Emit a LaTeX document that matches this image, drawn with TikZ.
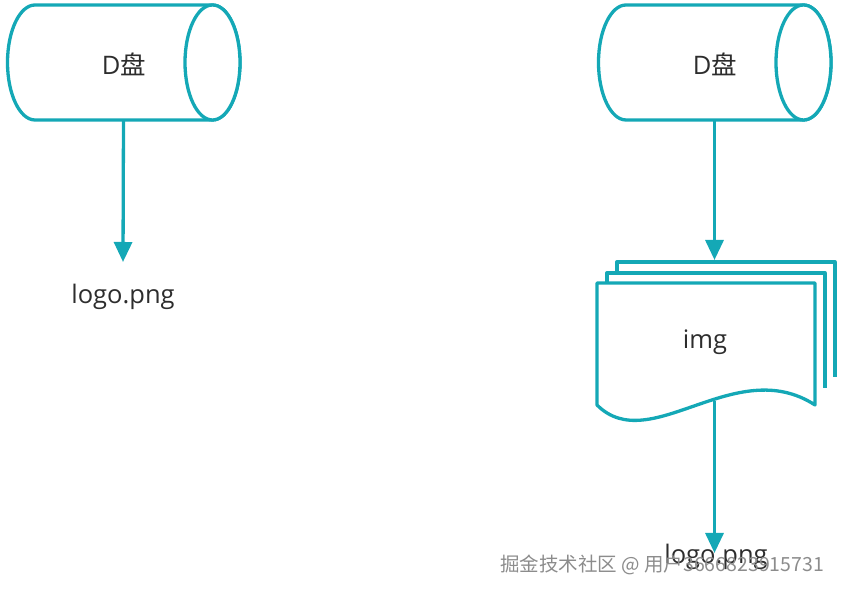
\documentclass[tikz,border=0pt]{standalone}
\usepackage{fontspec}
\setmainfont{Open Sans}
\newfontfamily\cjk{Noto Sans CJK SC}
\usetikzlibrary{arrows.meta}
\definecolor{teal}{RGB}{20,168,182}
\definecolor{txt}{RGB}{45,45,45}
\tikzset{
  edge/.style={draw=teal,line width=3.3pt,-{Triangle[width=18pt,length=20pt]}},
  shp/.style={draw=teal,line width=3.3pt,fill=white,line join=round},
  lbl/.style={text=txt,font=\fontsize{25.5}{30}\selectfont,inner sep=0pt},
}
\begin{document}
\begin{tikzpicture}[x=1pt,y=1pt]
\useasboundingbox (0,0) rectangle (844,593);
% left cylinder
\path[shp] (212.5,588) -- (35,588) arc[start angle=90,end angle=270,x radius=27.5,y radius=57.5] -- (212.5,473) arc[start angle=270,end angle=450,x radius=27.5,y radius=57.5] -- cycle;
\draw[shp] (212.5,530.5) ellipse[x radius=27.5,y radius=57.5];
\node[lbl] (cylL) at (124,529) {D{\cjk 盘}};
\coordinate (cylLb) at (123.5,473);
% right cylinder
\path[shp] (803.5,588) -- (626,588) arc[start angle=90,end angle=270,x radius=27.5,y radius=57.5] -- (803.5,473) arc[start angle=270,end angle=450,x radius=27.5,y radius=57.5] -- cycle;
\draw[shp] (803.5,530.5) ellipse[x radius=27.5,y radius=57.5];
\node[lbl] (cylR) at (715,529) {D{\cjk 盘}};
\coordinate (cylRb) at (714.5,473);
% left output
\node[lbl,anchor=base] (logoL) at (123,289) {logo.png};
\coordinate (logoLt) at (123,331);
\draw[edge] (cylLb) -- (logoLt);
% document stack
\fill[white] (617,300) -- (617,331) -- (835,331) -- (835,216) -- cycle;
\draw[shp,fill=none] (617,300) -- (617,331) -- (835,331) -- (835,216);
\fill[white] (607,300) -- (607,320) -- (825,320) -- (825,205) -- cycle;
\draw[shp,fill=none] (607,300) -- (607,320) -- (825,320) -- (825,205);
\path[shp] (597,310) -- (815,310) -- (815,188) .. controls (735,240) and (650,135) .. (597,188) -- cycle;
\node[lbl] (img) at (705,251) {img};
\coordinate (docT) at (714.5,333);
\coordinate (docB) at (714.5,192);
\draw[edge] (cylRb) -- (docT);
% right output
\node[lbl,anchor=base] (logoR) at (716,29) {logo.png};
\coordinate (logoRt) at (714.5,40);
\draw[edge] (docB) -- (logoRt);
% watermark
\node[text=gray!90,font=\cjk\fontsize{19.5}{22}\selectfont,inner sep=0pt] (wm) at (662,28) {掘金技术社区 @ 用户3666823915731};
\end{tikzpicture}
\end{document}
